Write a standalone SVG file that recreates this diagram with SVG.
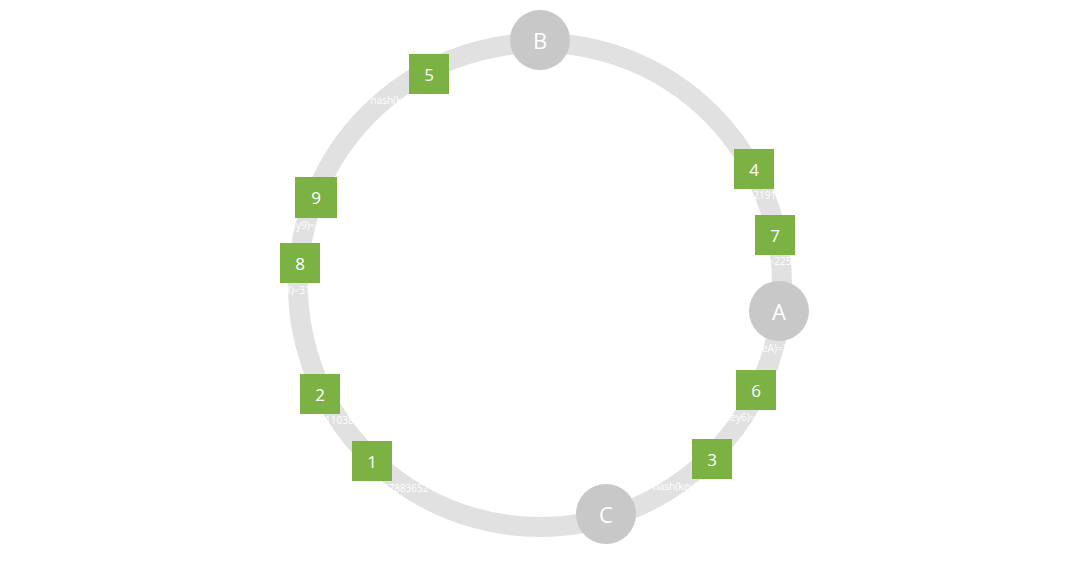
<svg xmlns="http://www.w3.org/2000/svg" width="1080" height="580" viewBox="0 0 1080 580">
<style>
.ring{fill:none;stroke:#e1e1e1;stroke-width:20}
.srv{fill:#c8c8c8}
.srvt{font-family:"Open Sans","Noto Sans",sans-serif;font-size:22px;fill:#ffffff;text-anchor:middle;dominant-baseline:central}
.key{fill:#7cb244}
.keyt{font-family:"Open Sans","Noto Sans",sans-serif;font-size:17px;font-weight:500;fill:#ffffff;text-anchor:middle;dominant-baseline:central}
.lbl{font-family:"Open Sans","Noto Sans",sans-serif;font-size:10px;font-weight:500;fill:#ffffff;text-anchor:middle}
</style>
<rect width="1080" height="580" fill="#ffffff"/>
<g id="connectors">
<circle class="ring" cx="540" cy="285" r="242"/>
</g>
<g id="nodeB"><circle class="srv" cx="540" cy="40" r="30"/><text class="srvt" x="540" y="40">B</text></g>
<g id="nodeA"><circle class="srv" cx="779" cy="311" r="30"/><text class="srvt" x="779" y="311">A</text><text class="lbl" x="779" y="352">hash(nodeA)=2487361592</text></g>
<g id="nodeC"><circle class="srv" cx="606" cy="514" r="30"/><text class="srvt" x="606" y="514">C</text></g>
<g id="key5"><rect class="key" x="409" y="54" width="40" height="40"/><text class="keyt" x="429" y="74">5</text><text class="lbl" x="427" y="104">hash(key5)=4012573869</text></g>
<g id="key4"><rect class="key" x="734" y="149" width="40" height="40"/><text class="keyt" x="754" y="169">4</text><text class="lbl" x="754" y="199">hash(key4)=2191043857</text></g>
<g id="key7"><rect class="key" x="755" y="215" width="40" height="40"/><text class="keyt" x="775" y="235">7</text><text class="lbl" x="775" y="265">hash(key7)=2253617490</text></g>
<g id="key6"><rect class="key" x="736" y="370" width="40" height="40"/><text class="keyt" x="756" y="390">6</text><text class="lbl" x="756" y="421">hash(key6)=2905183746</text></g>
<g id="key3"><rect class="key" x="692" y="439" width="40" height="40"/><text class="keyt" x="712" y="459">3</text><text class="lbl" x="712" y="490">hash(key3)=33187264509</text></g>
<g id="key1"><rect class="key" x="352" y="441" width="40" height="40"/><text class="keyt" x="372" y="461">1</text><text class="lbl" x="372" y="492">hash(key1)=1237883652</text></g>
<g id="key2"><rect class="key" x="300" y="374" width="40" height="40"/><text class="keyt" x="320" y="394">2</text><text class="lbl" x="320" y="424">hash(key2)=1110389274</text></g>
<g id="key8"><rect class="key" x="280" y="243" width="40" height="40"/><text class="keyt" x="300" y="263">8</text><text class="lbl" x="300" y="294">hash(key8)=3164502918</text></g>
<g id="key9"><rect class="key" x="295" y="177" width="42" height="41"/><text class="keyt" x="316" y="197">9</text><text class="lbl" x="316" y="229">hash(key9)=3582946170</text></g>
</svg>
